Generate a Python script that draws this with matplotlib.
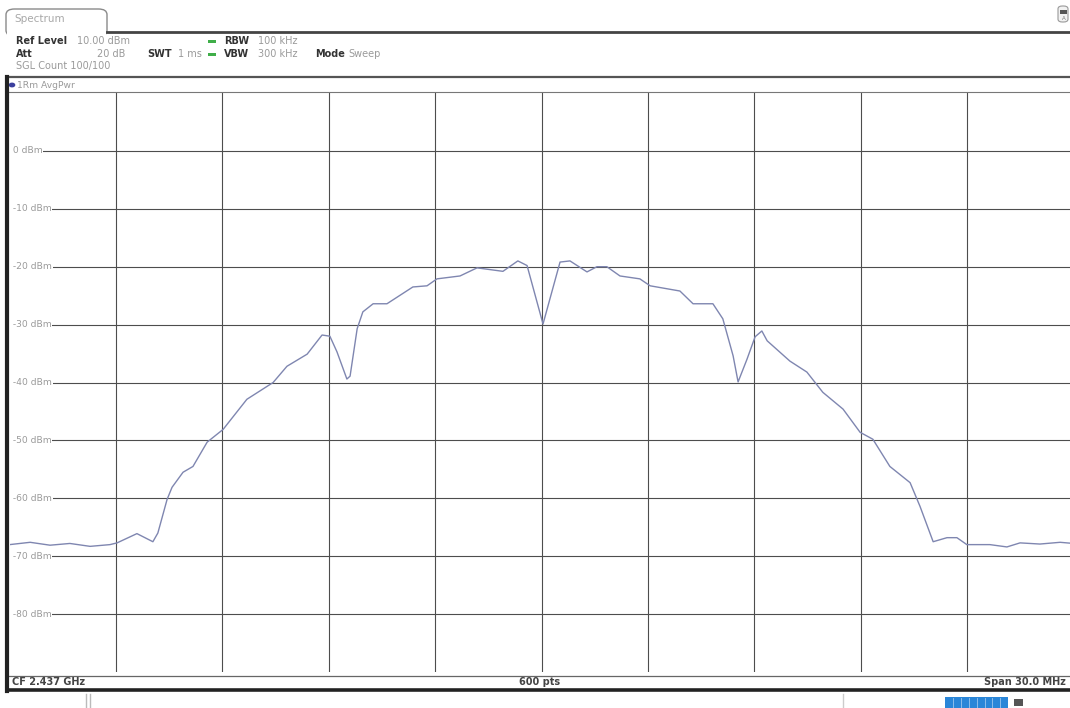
"""Spectrum analyzer screenshot: 1Rm AvgPwr trace, CF 2.437 GHz, span 30 MHz."""
import matplotlib
matplotlib.use("Agg")
import matplotlib.pyplot as plt
from matplotlib.patches import Rectangle, FancyBboxPatch
from matplotlib.lines import Line2D

W, H = 1070, 708

# trace: frequency (MHz) / level (dBm)
freq_mhz = [2422.00, 2422.58, 2423.14, 2423.70, 2424.27, 2424.83, 2425.03, 2425.59,
            2426.04, 2426.18, 2426.44, 2426.58, 2426.89, 2427.17, 2427.57, 2428.02,
            2428.69, 2429.43, 2429.82, 2430.39, 2430.81, 2431.03, 2431.23, 2431.51,
            2431.60, 2431.80, 2431.96, 2432.25, 2432.64, 2433.37, 2433.77, 2434.05,
            2434.70, 2435.18, 2435.91, 2436.33, 2436.59, 2437.04, 2437.52, 2437.80,
            2438.28, 2438.56, 2438.84, 2439.21, 2439.77, 2440.06, 2440.90, 2441.27,
            2441.83, 2442.11, 2442.40, 2442.54, 2442.79, 2443.02, 2443.21, 2443.36,
            2444.00, 2444.48, 2444.93, 2445.50, 2445.98, 2446.34, 2446.82, 2447.39,
            2447.67, 2448.04, 2448.43, 2448.71, 2448.99, 2449.64, 2450.12, 2450.49,
            2451.05, 2451.62, 2452.00]
level_dbm = [-68.0, -67.6, -68.1, -67.8, -68.3, -68.0, -67.7, -66.1,
             -67.5, -66.0, -60.2, -58.1, -55.5, -54.5, -50.3, -48.1,
             -42.9, -40.0, -37.2, -35.1, -31.8, -32.0, -34.7, -39.4,
             -38.9, -30.7, -27.8, -26.4, -26.4, -23.5, -23.3, -22.1,
             -21.6, -20.2, -20.8, -19.0, -19.8, -29.9, -19.2, -19.0,
             -20.9, -20.0, -20.0, -21.6, -22.1, -23.3, -24.2, -26.4,
             -26.4, -29.0, -35.4, -39.9, -36.0, -32.1, -31.1, -32.8,
             -36.3, -38.2, -41.7, -44.6, -48.6, -49.8, -54.5, -57.3,
             -61.4, -67.5, -66.8, -66.8, -68.0, -68.0, -68.4, -67.7,
             -67.9, -67.6, -67.8]

y_levels = [0, -10, -20, -30, -40, -50, -60, -70, -80]
y_labels = ["0 dBm", "-10 dBm", "-20 dBm", "-30 dBm", "-40 dBm",
            "-50 dBm", "-60 dBm", "-70 dBm", "-80 dBm"]

GRID = "#4d4d4d"
TXT = "#9a9a9a"
DARK = "#333333"
TRACE = "#7f86b0"


def fx(x):
    return x / W


def fy(y):
    return 1 - y / H


def hline(fig, y, x0, x1, **kw):
    fig.add_artist(Line2D([fx(x0), fx(x1)], [fy(y), fy(y)], transform=fig.transFigure, **kw))


def vline(fig, x, y0, y1, **kw):
    fig.add_artist(Line2D([fx(x), fx(x)], [fy(y0), fy(y1)], transform=fig.transFigure, **kw))


def label(fig, x, y, s, **kw):
    kw.setdefault("fontsize", 7)
    kw.setdefault("va", "center")
    fig.text(fx(x), fy(y), s, **kw)


fig = plt.figure(figsize=(W / 100, H / 100), dpi=100)

# trace window: 10 divisions of ~106.4 px, 10 dBm at y=93, -90 dBm at y=672
x0_px, div_px = 9.6, 106.4
top_px, bot_px = 93, 672
ax = fig.add_axes([fx(x0_px), fy(bot_px), 10 * div_px / W, (bot_px - top_px) / H])
ax.plot(freq_mhz, level_dbm, color=TRACE, lw=1.0)
ax.set_xlim(2422, 2452)
ax.set_ylim(-90, 10)
ax.set_xticks([2422 + 3 * i for i in range(1, 10)])
ax.set_yticks(y_levels)
ax.grid(True, color=GRID, lw=0.8)
ax.tick_params(length=0, labelbottom=False, labelleft=False)
for s in ax.spines.values():
    s.set_visible(False)
for lv, lb in zip(y_levels, y_labels):
    ax.text(0.0, lv, " " + lb, transform=ax.get_yaxis_transform(), fontsize=6.6, color=TXT,
            va="center", ha="left", bbox=dict(fc="white", ec="none", pad=0.8))

# tab and header
tab = FancyBboxPatch((fx(6), fy(36)), fx(101), (36 - 9) / H, boxstyle="round,pad=0,rounding_size=0.008",
                     transform=fig.transFigure, fc="white", ec="#8a8a8a", lw=1.0)
fig.add_artist(tab)
fig.add_artist(Rectangle((fx(7), fy(40)), fx(99), 8 / H, transform=fig.transFigure, fc="white", ec="none"))
label(fig, 14, 19, "Spectrum", fontsize=7.5, color="#a8a8a8")
hline(fig, 32, 107, 1070, color="#444444", lw=2.0)

r1, r2, r3 = 41, 54, 66
label(fig, 16, r1, "Ref Level", color=DARK, fontweight="bold")
label(fig, 77, r1, "10.00 dBm", color=TXT)
label(fig, 16, r2, "Att", color=DARK, fontweight="bold")
label(fig, 125, r2, "20 dB", color=TXT, ha="right")
label(fig, 147, r2, "SWT", color=DARK, fontweight="bold")
label(fig, 178, r2, "1 ms", color=TXT)
for yy in (r1, r2):
    fig.add_artist(Rectangle((fx(208), fy(yy + 1.5)), fx(8), 3 / H, transform=fig.transFigure,
                             fc="#3fae49", ec="none"))
label(fig, 224, r1, "RBW", color=DARK, fontweight="bold")
label(fig, 258, r1, "100 kHz", color=TXT)
label(fig, 224, r2, "VBW", color=DARK, fontweight="bold")
label(fig, 258, r2, "300 kHz", color=TXT)
label(fig, 315, r2, "Mode", color=DARK, fontweight="bold")
label(fig, 348, r2, "Sweep", color=TXT)
label(fig, 16, r3, "SGL Count 100/100", color=TXT)

# top-right icon
icon = FancyBboxPatch((fx(1058), fy(22)), fx(10), 16 / H, boxstyle="round,pad=0,rounding_size=0.004",
                      transform=fig.transFigure, fc="#f2f2f2", ec="#999999", lw=0.8)
fig.add_artist(icon)
fig.add_artist(Rectangle((fx(1060), fy(14)), fx(7), 4 / H, transform=fig.transFigure, fc="#555555", ec="none"))
label(fig, 1063.5, 19, "A", fontsize=4, color="#777777", ha="center")

# trace title row
hline(fig, 77, 7, 1070, color="#555555", lw=1.6)
hline(fig, 92, 7, 1070, color="#777777", lw=0.8)
fig.add_artist(plt.Circle((fx(12), fy(85)), 2.6 / W, transform=fig.transFigure, color="#3b3f9e"))
label(fig, 17, 85, "1Rm AvgPwr", color=TXT, fontsize=6.6)

# footer
hline(fig, 676, 7, 1070, color="#666666", lw=0.9)
label(fig, 12, 682, "CF 2.437 GHz", color="#444444", fontweight="bold")
label(fig, 540, 682, "600 pts", color="#444444", fontweight="bold", ha="center")
label(fig, 1066, 682, "Span 30.0 MHz", color="#444444", fontweight="bold", ha="right")
hline(fig, 690, 7, 1070, color="#222222", lw=2.6)
vline(fig, 7, 77, 691, color="#222222", lw=3.0)

# status strip below
vline(fig, 86, 694, 708, color="#bbbbbb", lw=1.0)
vline(fig, 90, 694, 708, color="#bbbbbb", lw=1.0)
vline(fig, 843, 694, 708, color="#cccccc", lw=1.0)
fig.add_artist(Rectangle((fx(945), fy(708)), fx(63), 11 / H, transform=fig.transFigure,
                         fc="#2a86d8", ec="none"))
for i in range(1, 8):
    vline(fig, 945 + i * 7.9, 698, 708, color="#9cc6ee", lw=0.6)
fig.add_artist(Rectangle((fx(1014), fy(706)), fx(9), 7 / H, transform=fig.transFigure,
                         fc="#555555", ec="none"))

fig.savefig("out.png", dpi=100)
